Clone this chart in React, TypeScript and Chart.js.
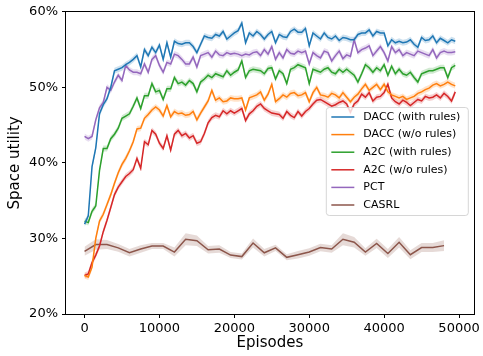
import React, { useEffect, useRef } from "react";
import { Chart, registerables } from "chart.js";

Chart.register(...registerables);

const FONT = "'DejaVu Sans', sans-serif";

// x grid of the main curves (every 500 episodes) and of CASRL (every 1500 episodes)
const episodes: number[] = Array.from({ length: 100 }, (_, i) => i * 500);
const casrlEpisodes: number[] = Array.from({ length: 33 }, (_, i) => i * 1500);

const xTicks = [0, 10000, 20000, 30000, 40000, 50000];
const yTicks = [20, 30, 40, 50, 60];

const daccWithRules = [
  31.9, 33.0, 39.5, 42.0, 46.5, 47.7, 48.5, 50.0, 52.2, 52.4,
  52.6, 53.0, 53.3, 53.7, 54.2, 52.7, 55.0, 54.2, 55.3, 54.6,
  55.6, 53.7, 55.9, 54.0, 56.1, 55.8, 55.7, 55.9, 55.9, 55.4,
  54.6, 55.7, 56.8, 56.6, 56.5, 57.0, 56.8, 57.4, 56.4, 56.8,
  57.2, 57.5, 58.5, 55.9, 57.2, 56.8, 57.4, 57.0, 56.4, 57.0,
  57.4, 55.9, 57.0, 56.7, 56.6, 57.4, 57.7, 57.3, 57.3, 57.8,
  55.5, 57.2, 56.8, 56.4, 57.2, 56.6, 56.4, 56.8, 56.2, 56.6,
  56.5, 56.3, 56.3, 57.0, 57.2, 57.2, 57.6, 56.8, 57.4, 57.2,
  57.2, 55.5, 56.3, 55.9, 56.1, 55.9, 56.0, 56.3, 55.7, 55.3,
  56.6, 56.2, 56.3, 56.8, 55.9, 56.5, 56.2, 55.9, 56.3, 56.1,
];

const daccWoRules = [
  25.1, 24.9, 26.2, 30.0, 32.3, 33.2, 34.5, 35.8, 37.3, 38.7,
  39.8, 40.6, 41.6, 42.8, 44.5, 44.6, 45.9, 46.4, 47.0, 47.4,
  47.0, 46.2, 47.6, 46.1, 46.8, 46.5, 46.6, 46.3, 46.4, 46.8,
  45.7, 46.6, 47.4, 48.2, 49.6, 48.3, 48.6, 48.1, 48.2, 48.6,
  48.5, 48.5, 48.6, 47.0, 48.6, 48.8, 49.0, 49.4, 48.3, 49.1,
  50.4, 48.1, 48.5, 49.0, 48.7, 49.2, 49.3, 48.9, 49.0, 49.3,
  48.1, 49.3, 50.0, 49.0, 48.9, 48.7, 49.2, 49.0, 48.6, 49.3,
  48.7, 48.1, 48.7, 49.1, 49.8, 50.4, 49.6, 50.0, 50.4, 49.7,
  50.4, 49.4, 49.0, 48.8, 48.6, 48.8, 48.4, 48.6, 48.8, 49.2,
  49.4, 49.7, 49.9, 50.3, 50.5, 50.2, 50.4, 50.7, 50.4, 50.2,
];

const a2cWithRules = [
  32.3, 32.1, 33.6, 34.3, 39.0, 41.9, 41.9, 43.2, 43.8, 44.6,
  45.9, 46.2, 46.5, 47.5, 48.6, 47.2, 48.9, 48.9, 50.5, 49.4,
  49.6, 48.4, 49.8, 49.8, 51.3, 50.5, 50.7, 50.3, 50.9, 50.5,
  49.4, 50.7, 51.1, 51.6, 51.3, 51.8, 51.6, 51.4, 52.2, 51.6,
  52.0, 52.3, 53.5, 51.3, 52.2, 52.4, 52.3, 52.2, 51.8, 52.5,
  52.6, 51.1, 52.2, 51.8, 50.5, 52.4, 52.6, 53.0, 52.8, 52.6,
  50.5, 52.4, 52.2, 52.0, 52.4, 52.6, 52.0, 51.8, 52.4, 52.0,
  52.4, 52.0, 51.6, 50.7, 51.8, 53.0, 52.6, 52.0, 52.6, 52.2,
  53.0, 51.6, 52.8, 51.8, 52.4, 51.8, 51.6, 52.0, 51.3, 50.7,
  51.8, 52.0, 52.2, 52.2, 52.4, 52.6, 52.6, 51.3, 52.6, 52.9,
];

const a2cWoRules = [
  25.1, 25.3, 26.8, 27.8, 29.0, 30.9, 32.4, 34.1, 35.8, 36.8,
  37.5, 38.2, 38.6, 39.1, 40.6, 39.3, 42.8, 42.4, 44.3, 43.8,
  42.6, 41.9, 43.6, 41.7, 43.8, 44.3, 43.6, 43.9, 43.3, 43.6,
  42.6, 42.8, 43.9, 45.3, 46.0, 46.3, 46.1, 46.9, 46.5, 46.9,
  46.6, 46.9, 47.2, 45.6, 46.5, 46.9, 47.5, 47.8, 47.2, 46.9,
  46.6, 46.5, 46.4, 45.9, 46.8, 46.3, 46.0, 46.8, 46.2, 46.8,
  47.2, 47.8, 48.3, 48.4, 48.1, 47.8, 47.5, 47.7, 48.0, 48.2,
  47.8, 46.7, 47.8, 48.2, 49.1, 48.7, 49.3, 48.2, 48.7, 48.8,
  49.3, 50.4, 48.6, 48.1, 47.8, 48.3, 48.0, 47.6, 48.0, 48.4,
  48.2, 48.8, 48.6, 48.7, 49.0, 48.6, 49.2, 48.8, 48.2, 49.4,
];

const pct = [
  43.5, 43.2, 43.5, 45.7, 47.3, 48.0, 50.0, 49.6, 50.7, 51.6,
  50.9, 52.9, 52.3, 52.0, 52.0, 51.8, 53.1, 52.0, 53.7, 54.2,
  52.9, 52.0, 53.3, 53.1, 54.4, 54.2, 53.7, 53.1, 53.1, 54.0,
  52.7, 54.2, 54.4, 54.6, 54.0, 54.8, 54.3, 54.2, 54.6, 54.4,
  54.5, 54.4, 54.2, 54.4, 54.3, 54.6, 54.7, 54.2, 55.0, 54.4,
  55.4, 53.7, 54.6, 53.9, 55.0, 54.5, 54.4, 54.8, 54.6, 54.8,
  53.1, 54.6, 54.2, 53.9, 54.8, 54.6, 53.5, 54.2, 54.8, 53.8,
  54.3, 54.1, 56.3, 54.6, 55.0, 55.2, 55.5, 54.2, 54.8, 55.4,
  54.6, 53.5, 55.4, 54.6, 55.0, 54.2, 54.6, 54.4, 54.2, 54.8,
  54.6, 54.4, 54.2, 55.0, 53.9, 54.6, 54.8, 54.6, 54.6, 54.7,
];

const casrl = [
  28.3, 29.2, 29.2, 28.75, 28.1, 28.6, 29.0, 29.0, 28.2, 29.9,
  29.7, 28.5, 28.6, 27.8, 27.6, 29.4, 28.1, 28.75, 27.5, 27.85,
  28.2, 28.8, 28.6, 29.9, 29.5, 28.2, 29.35, 28.0, 29.5, 27.85,
  28.8, 28.8, 29.05,
];

// half-width of the shaded confidence bands
const mainSpread = 0.4;
const casrlSpread = [
  0.6, 0.7, 0.6, 0.5, 0.5, 0.5, 0.4, 0.4, 0.6, 0.8,
  0.7, 0.5, 0.5, 0.4, 0.4, 0.6, 0.5, 0.4, 0.4, 0.5,
  0.5, 0.5, 0.5, 0.8, 0.7, 0.5, 0.6, 0.6, 0.7, 0.6,
  0.6, 0.6, 0.7,
];

type Series = {
  label: string;
  color: string;
  rgb: string;
  xs: number[];
  ys: number[];
  spread: number[];
};

const SERIES: Series[] = [
  { label: "DACC (with rules)", color: "#1f77b4", rgb: "31,119,180", xs: episodes, ys: daccWithRules, spread: daccWithRules.map(() => mainSpread) },
  { label: "DACC (w/o rules)", color: "#ff7f0e", rgb: "255,127,14", xs: episodes, ys: daccWoRules, spread: daccWoRules.map(() => mainSpread) },
  { label: "A2C (with rules)", color: "#2ca02c", rgb: "44,160,44", xs: episodes, ys: a2cWithRules, spread: a2cWithRules.map(() => mainSpread) },
  { label: "A2C (w/o rules)", color: "#d62728", rgb: "214,39,40", xs: episodes, ys: a2cWoRules, spread: a2cWoRules.map(() => mainSpread) },
  { label: "PCT", color: "#9467bd", rgb: "148,103,189", xs: episodes, ys: pct, spread: pct.map(() => mainSpread) },
  { label: "CASRL", color: "#8c564b", rgb: "140,86,75", xs: casrlEpisodes, ys: casrl, spread: casrlSpread },
];

const framePlugin = {
  id: "frameAndLegend",
  afterDraw(chart: any) {
    const { ctx, chartArea } = chart;
    ctx.save();
    // spines
    ctx.strokeStyle = "#000";
    ctx.lineWidth = 1;
    ctx.strokeRect(
      Math.round(chartArea.left) - 0.5,
      Math.round(chartArea.top) - 0.5,
      Math.round(chartArea.right - chartArea.left) + 1,
      Math.round(chartArea.bottom - chartArea.top) + 1
    );
    // legend box
    const bx = chartArea.right - 147.5;
    const by = 107.5;
    const bw = 142;
    const bh = 108;
    const r = 3;
    ctx.beginPath();
    ctx.moveTo(bx + r, by);
    ctx.lineTo(bx + bw - r, by);
    ctx.quadraticCurveTo(bx + bw, by, bx + bw, by + r);
    ctx.lineTo(bx + bw, by + bh - r);
    ctx.quadraticCurveTo(bx + bw, by + bh, bx + bw - r, by + bh);
    ctx.lineTo(bx + r, by + bh);
    ctx.quadraticCurveTo(bx, by + bh, bx, by + bh - r);
    ctx.lineTo(bx, by + r);
    ctx.quadraticCurveTo(bx, by, bx + r, by);
    ctx.closePath();
    ctx.fillStyle = "rgba(255,255,255,0.8)";
    ctx.fill();
    ctx.strokeStyle = "rgba(204,204,204,0.8)";
    ctx.lineWidth = 1;
    ctx.stroke();
    ctx.font = `11px ${FONT}`;
    ctx.textBaseline = "middle";
    ctx.textAlign = "left";
    SERIES.forEach((s, i) => {
      const cy = by + 9.5 + i * 17.6;
      ctx.beginPath();
      ctx.moveTo(bx + 5, cy);
      ctx.lineTo(bx + 28, cy);
      ctx.strokeStyle = s.color;
      ctx.lineWidth = 1.5;
      ctx.stroke();
      ctx.fillStyle = "#000";
      ctx.fillText(s.label, bx + 37, cy);
    });
    ctx.restore();
  },
};

export default function App() {
  const canvasRef = useRef<HTMLCanvasElement | null>(null);

  useEffect(() => {
    document.body.style.margin = "0";
    const canvas = canvasRef.current;
    if (!canvas) return;

    const lineSets: any[] = [];
    const bandSets: any[] = [];
    SERIES.forEach((s) => {
      lineSets.push({
        label: s.label,
        data: s.ys.map((v, i) => ({ x: s.xs[i], y: v })),
        borderColor: s.color,
        backgroundColor: s.color,
        borderWidth: 1.5,
        pointRadius: 0,
        tension: 0,
        fill: false,
      });
    });
    const base = lineSets.length;
    SERIES.forEach((s, k) => {
      bandSets.push({
        label: s.label + " upper",
        data: s.ys.map((v, i) => ({ x: s.xs[i], y: v + s.spread[i] })),
        borderWidth: 0,
        borderColor: "rgba(0,0,0,0)",
        pointRadius: 0,
        fill: false,
      });
      bandSets.push({
        label: s.label + " lower",
        data: s.ys.map((v, i) => ({ x: s.xs[i], y: v - s.spread[i] })),
        borderWidth: 0,
        borderColor: "rgba(0,0,0,0)",
        backgroundColor: `rgba(${s.rgb},0.22)`,
        pointRadius: 0,
        fill: { target: base + 2 * k },
      });
    });

    const chart = new Chart(canvas, {
      type: "line",
      data: { datasets: [...lineSets, ...bandSets] },
      options: {
        responsive: false,
        animation: false,
        layout: { padding: { top: 9, right: 8, left: 0, bottom: 0 } },
        plugins: {
          legend: { display: false },
          tooltip: { enabled: false },
        },
        scales: {
          x: {
            type: "linear",
            min: -2475,
            max: 51975,
            afterBuildTicks: (scale: any) => {
              scale.ticks = xTicks.map((v) => ({ value: v }));
            },
            afterFit: (scale: any) => {
              scale.height = 42;
            },
            ticks: {
              callback: (v: any) => String(v),
              maxRotation: 0,
              autoSkip: false,
              padding: 3,
              color: "#000",
              font: { family: FONT, size: 13 },
            },
            grid: { drawOnChartArea: false, drawTicks: true, tickLength: 4, color: "#000" },
            border: { display: false },
            title: {
              display: true,
              text: "Episodes",
              color: "#000",
              font: { family: FONT, size: 15 },
              padding: { top: 0, bottom: 4 },
            },
          },
          y: {
            type: "linear",
            min: 20,
            max: 60,
            afterBuildTicks: (scale: any) => {
              scale.ticks = yTicks.map((v) => ({ value: v }));
            },
            afterFit: (scale: any) => {
              scale.width = 66;
            },
            ticks: {
              callback: (v: any) => `${v}%`,
              padding: 4,
              color: "#000",
              font: { family: FONT, size: 13 },
            },
            grid: { drawOnChartArea: false, drawTicks: true, tickLength: 4, color: "#000" },
            border: { display: false },
            title: {
              display: true,
              text: "Space utility",
              color: "#000",
              font: { family: FONT, size: 15 },
              padding: { top: 6, bottom: 0 },
            },
          },
        },
      },
      plugins: [framePlugin],
    });

    return () => chart.destroy();
  }, []);

  return (
    <div style={{ position: "fixed", left: 0, top: 0, width: 483, height: 356 }}>
      <canvas ref={canvasRef} width={483} height={356} style={{ width: 483, height: 356, display: "block" }} />
    </div>
  );
}
